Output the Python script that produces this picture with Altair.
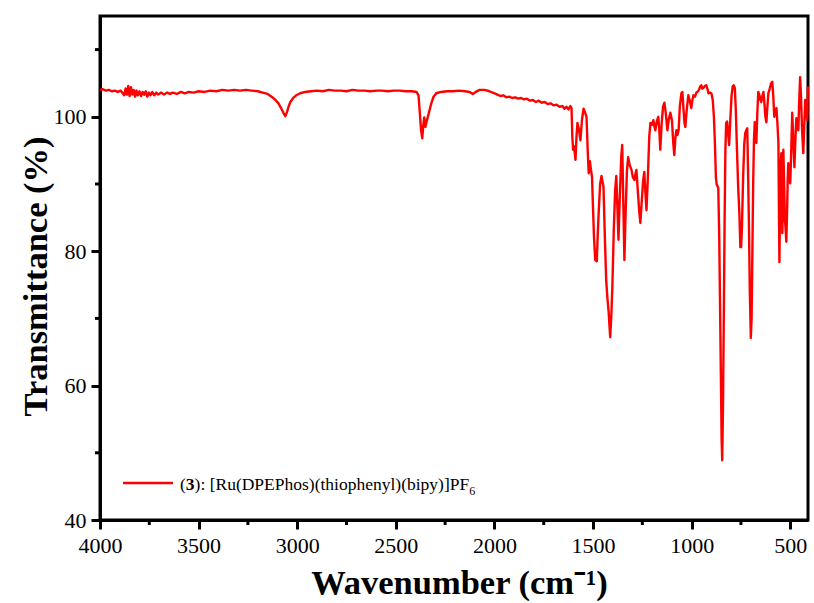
import altair as alt
import pandas as pd

# ---- data (wavenumber cm-1, transmittance %) ----
region_high = [
    (4000, 104.0), (3985, 104.1), (3970, 103.9), (3955, 104.0), (3940, 103.8), (3925, 103.9),
    (3910, 103.7), (3895, 103.9), (3885, 103.5), (3877, 103.2), (3870, 104.2), (3863, 103.3),
    (3857, 104.6), (3850, 103.1), (3843, 104.4), (3836, 103.3), (3829, 104.0), (3822, 103.0),
    (3815, 103.9), (3808, 103.2), (3800, 103.8), (3792, 103.1), (3784, 103.7), (3776, 103.3),
    (3768, 103.8), (3760, 103.0), (3752, 103.6), (3744, 103.2), (3735, 103.7), (3725, 103.2),
    (3715, 103.6), (3705, 103.3), (3690, 103.6), (3675, 103.3), (3660, 103.6), (3645, 103.4),
    (3630, 103.6), (3610, 103.4), (3590, 103.7), (3570, 103.5), (3550, 103.7), (3525, 103.6),
    (3500, 103.8), (3470, 103.7), (3440, 103.9), (3410, 103.8), (3380, 104.0), (3350, 103.9),
    (3320, 104.0), (3290, 103.9), (3260, 104.0), (3230, 103.9), (3200, 103.8), (3175, 103.6),
    (3150, 103.4), (3130, 103.0), (3110, 102.5), (3095, 102.0), (3082, 101.3), (3070, 100.6),
    (3060, 100.1), (3052, 100.7), (3044, 101.5), (3035, 102.2), (3020, 102.8), (3005, 103.2),
    (2985, 103.5), (2960, 103.7), (2930, 103.8), (2900, 103.9), (2870, 103.8), (2840, 104.0),
    (2810, 103.9), (2780, 103.9), (2750, 103.8), (2720, 104.0), (2690, 103.9), (2660, 103.9),
    (2630, 103.8), (2600, 103.9), (2570, 103.9), (2540, 103.8), (2510, 103.9), (2480, 103.9),
    (2450, 103.8), (2420, 103.8), (2395, 103.7), (2385, 103.2), (2378, 100.5), (2372, 98.0),
    (2366, 96.8), (2361, 98.6), (2356, 99.9), (2350, 98.5), (2343, 99.4), (2334, 100.4),
    (2322, 101.8), (2310, 102.9), (2295, 103.5), (2270, 103.7), (2240, 103.8), (2210, 103.8),
    (2180, 103.9), (2150, 103.8), (2125, 103.7), (2110, 103.4), (2095, 103.7), (2075, 104.0),
    (2050, 104.0), (2025, 103.8), (2000, 103.5),
]

region_mid = [
    (1985, 103.3), (1970, 103.1), (1955, 103.2), (1940, 102.9), (1925, 103.0), (1910, 102.8),
    (1895, 102.9), (1880, 102.7), (1865, 102.8), (1850, 102.6), (1835, 102.7), (1820, 102.4),
    (1805, 102.5), (1790, 102.2), (1775, 102.4), (1760, 102.1), (1745, 102.2), (1730, 101.9),
    (1715, 102.0), (1700, 101.7), (1685, 101.8), (1670, 101.5), (1655, 101.6), (1645, 101.2),
    (1635, 101.5), (1625, 101.1), (1615, 101.6), (1609, 101.3), (1605, 97.0), (1601, 95.1),
    (1596, 95.6), (1589, 93.6), (1584, 97.0), (1579, 99.1), (1572, 98.2), (1564, 96.5),
    (1556, 99.6), (1548, 101.2), (1540, 100.6), (1533, 100.0), (1527, 95.0), (1522, 91.6),
    (1516, 93.4), (1511, 92.2), (1505, 91.0), (1501, 87.2), (1495, 82.0), (1489, 78.7),
    (1481, 78.5), (1476, 82.5), (1471, 86.0), (1464, 90.0), (1457, 91.2), (1451, 90.2),
    (1447, 89.6), (1440, 82.0), (1433, 75.5), (1427, 73.0), (1421, 71.0), (1413, 67.2),
    (1407, 70.5), (1402, 74.7), (1395, 83.0), (1388, 89.0), (1382, 91.2), (1377, 87.0),
    (1371, 81.7), (1365, 87.5), (1357, 94.0), (1352, 95.8), (1347, 88.0), (1341, 78.7),
    (1335, 85.5), (1328, 92.0), (1322, 94.0), (1314, 92.8), (1305, 92.1), (1298, 91.0),
    (1290, 90.6), (1285, 91.5), (1280, 92.1), (1273, 89.0), (1266, 86.0), (1260, 84.2),
    (1254, 87.0), (1246, 90.5), (1240, 91.8), (1235, 89.0), (1229, 86.1), (1222, 91.0),
    (1215, 97.0), (1209, 99.1), (1201, 98.8), (1194, 99.5), (1189, 98.6), (1184, 98.0),
    (1177, 99.3), (1169, 100.0), (1164, 98.0), (1159, 95.1), (1152, 99.0), (1145, 101.5),
    (1138, 102.1), (1131, 100.5), (1123, 98.0), (1116, 99.6), (1108, 100.6), (1100, 99.5),
    (1093, 96.0), (1088, 94.3), (1082, 97.0), (1077, 98.0), (1072, 97.3), (1066, 98.0),
    (1060, 101.5), (1052, 103.5), (1047, 103.7), (1041, 101.0), (1036, 99.0), (1032, 98.5),
    (1025, 101.0), (1017, 103.2), (1010, 102.5), (1002, 101.3),
]

region_low = [
    (996, 102.5), (991, 103.2), (983, 103.0), (976, 103.6), (971, 103.7), (963, 104.0),
    (957, 104.5), (951, 104.7), (946, 104.2), (941, 104.3), (933, 104.6), (926, 104.7),
    (920, 104.2), (915, 103.5), (907, 103.6), (900, 103.5), (893, 102.5), (887, 100.0),
    (882, 96.0), (877, 91.0), (873, 89.9), (869, 89.7), (865, 89.4), (860, 82.0),
    (856, 72.0), (852, 62.0), (848, 52.0), (845, 48.9), (841, 57.0), (837, 70.0),
    (833, 84.0), (829, 95.0), (825, 99.1), (820, 99.3), (815, 97.5), (810, 95.8),
    (804, 99.5), (798, 103.0), (792, 104.5), (787, 104.7), (781, 104.3), (776, 101.0),
    (770, 95.0), (764, 89.5), (758, 85.7), (753, 80.6), (749, 80.6), (745, 83.5),
    (739, 91.0), (733, 96.0), (728, 97.6), (723, 98.0), (718, 98.3), (714, 92.0),
    (709, 83.0), (705, 74.0), (700, 67.1), (696, 70.0), (692, 80.0), (688, 90.0),
    (684, 96.5), (680, 99.2), (675, 97.5), (672, 96.1), (667, 100.5), (662, 103.7),
    (656, 103.2), (651, 102.5), (647, 102.2), (642, 103.0), (636, 103.7), (631, 102.0),
    (626, 100.0), (621, 99.2), (616, 101.5), (611, 103.5), (604, 104.2), (597, 105.0),
    (591, 105.2), (586, 103.0), (581, 100.0), (576, 100.8), (570, 101.3), (565, 99.0),
    (560, 96.1), (557, 85.0), (555, 78.4), (552, 86.0), (548, 93.0), (545, 94.6),
    (542, 88.0), (540, 82.7), (537, 90.0), (535, 95.1), (531, 90.0), (527, 84.5),
    (524, 83.6), (520, 81.4), (516, 86.0), (513, 90.5), (510, 93.1), (505, 91.5),
    (500, 90.1), (495, 95.0), (490, 100.6), (485, 97.0), (479, 92.5), (474, 96.5),
    (469, 99.8), (464, 99.2), (459, 98.0), (455, 102.0), (450, 105.9), (446, 103.5),
    (440, 98.0), (434, 94.6), (429, 98.5), (424, 102.5), (419, 101.0), (414, 99.5),
    (411, 104.5),
]

x_major = [4000, 3500, 3000, 2500, 2000, 1500, 1000, 500]
x_minor = [3750, 3250, 2750, 2250, 1750, 1250, 750]
y_major = [40, 60, 80, 100]
y_minor = [50, 70, 90, 110]

legend_open = "("
legend_bold = "3"
legend_main = "): [Ru(DPEPhos)(thiophenyl)(bipy)]PF"
legend_sub = "6"

FONT = "Liberation Serif"
RED = "#FF0000"

spectrum = pd.DataFrame(region_high + region_mid + region_low,
                        columns=["wavenumber", "transmittance"])

xscale = alt.Scale(domain=[410, 4000], reverse=True, nice=False, zero=False)
yscale = alt.Scale(domain=[40, 115], nice=False, zero=False)

W, H = 708, 504

x_axis = alt.Axis(values=x_major, title="Wavenumber (cm⁻¹)", format="d",
                  labelPadding=6, labelFlush=False, labelOverlap=False,
                  titleX=W / 2 + 5, titleY=73,
                  titleAlign="center", titleBaseline="alphabetic")
y_axis = alt.Axis(values=y_major, title="Transmittance (%)", format="d",
                  labelPadding=5, labelFlush=False, labelOverlap=False,
                  titleX=-54, titleY=H / 2 + 8, titleAngle=270,
                  titleAlign="center", titleBaseline="alphabetic")

line = alt.Chart(spectrum).mark_line(color=RED, strokeWidth=2.4, strokeJoin="round").encode(
    x=alt.X("wavenumber:Q", scale=xscale, axis=x_axis),
    y=alt.Y("transmittance:Q", scale=yscale, axis=y_axis),
)

xminor = alt.Chart(pd.DataFrame({"wavenumber": x_minor})).mark_rule(
    color="black", strokeWidth=3, clip=False
).encode(x=alt.X("wavenumber:Q", scale=xscale, axis=x_axis),
         y=alt.value(H), y2=alt.value(H + 5))

yminor = alt.Chart(pd.DataFrame({"transmittance": y_minor})).mark_rule(
    color="black", strokeWidth=3, clip=False
).encode(y=alt.Y("transmittance:Q", scale=yscale, axis=y_axis),
         x=alt.value(0), x2=alt.value(-5))

leg_df = pd.DataFrame({"k": [0]})
leg_line = alt.Chart(leg_df).mark_rule(color=RED, strokeWidth=2.4).encode(
    x=alt.value(23), x2=alt.value(73), y=alt.value(467))

FS = 17.5
x0 = 80
x1 = x0 + 0.333 * FS
x2 = x1 + 0.5 * FS
x3 = x2 + 15.694 * FS
base_y = 474

def leg_text(txt, x, y, size, weight="normal"):
    return alt.Chart(leg_df).mark_text(
        text=txt, font=FONT, fontSize=size, fontWeight=weight, color="black",
        align="left", baseline="alphabetic"
    ).encode(x=alt.value(x), y=alt.value(y))

legend = (leg_text(legend_open, x0, base_y, FS)
          + leg_text(legend_bold, x1, base_y, FS, "bold")
          + leg_text(legend_main, x2, base_y, FS)
          + leg_text(legend_sub, x3, base_y + 5, 12))

chart = alt.layer(line, xminor, yminor, leg_line, legend).properties(
    width=W, height=H,
    autosize=alt.AutoSizeParams(type="none"),
    padding={"left": 100, "top": 16, "right": 6, "bottom": 83},
    background="white",
).configure_view(
    stroke="black", strokeWidth=3
).configure_axis(
    grid=False, domainColor="black", domainWidth=3, tickColor="black", tickWidth=3,
    tickSize=9, labelFont=FONT, labelFontSize=22, labelColor="black",
    titleFont=FONT, titleFontSize=34.5, titleFontWeight="bold", titleColor="black",
)

chart.save("out.html", embed_options={"renderer": "svg", "actions": False})
